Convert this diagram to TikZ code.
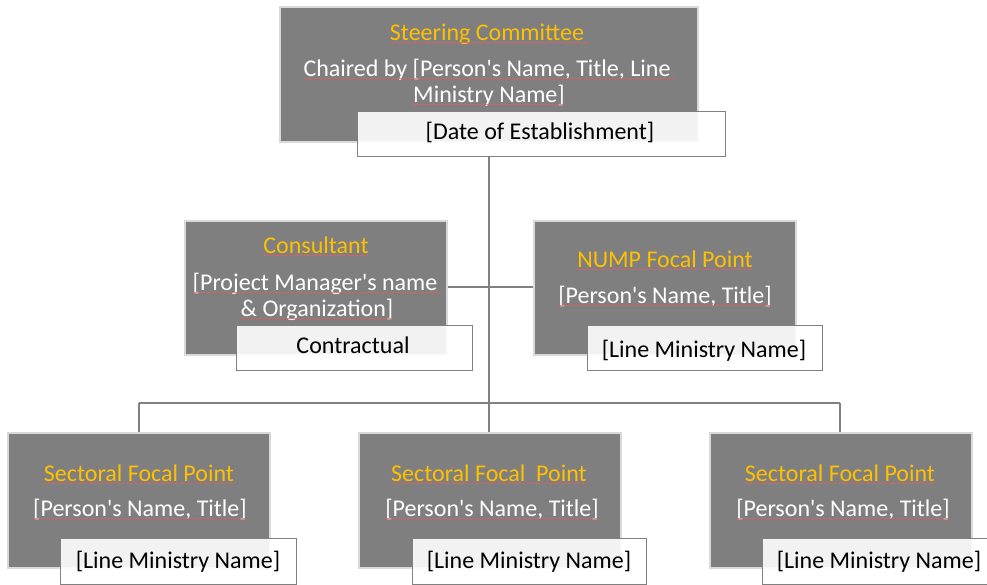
\documentclass[tikz,border=0pt]{standalone}
\usepackage{fontspec}
\setmainfont{Carlito}[Ligatures=TeXOff]
\definecolor{boxgray}{HTML}{7F7F7F}
\definecolor{rimgray}{HTML}{D9D9D9}
\definecolor{gold}{HTML}{FFC000}
\definecolor{linegray}{HTML}{808080}
\definecolor{squigred}{HTML}{E06060}
\begin{document}
\begin{tikzpicture}[x=1pt,y=-1pt,
  rolebox/.style={fill=boxgray,draw=rimgray,line width=2pt},
  tagbox/.style={fill=white,fill opacity=0.9,draw=linegray,line width=0.8pt},
  title/.style={text=gold,inner sep=0pt,anchor=base,font=\fontsize{24}{28}\selectfont},
  white text/.style={text=white,inner sep=0pt,anchor=base,font=\fontsize{24}{28}\selectfont},
  black text/.style={text=black,inner sep=0pt,anchor=base,font=\fontsize{24}{28}\selectfont},
  conn/.style={draw=linegray,line width=2pt},
  squig/.style={draw=squigred,draw opacity=0.7,line width=0.5pt}]
\useasboundingbox (0,0) rectangle (987,584);
% connectors (drawn first)
\coordinate (top) at (489,156);
\coordinate (bus) at (489,403);
\coordinate (busL) at (139,403);
\coordinate (busR) at (840,403);
\coordinate (hl) at (448,287);
\coordinate (hr) at (535,287);
\coordinate (dL) at (139,433);
\coordinate (dM) at (489,433);
\coordinate (dR) at (840,433);
\draw[conn] (top) -- (bus);
\draw[conn] (busL) -- (busR);
\draw[conn] (hl) -- (hr);
\draw[conn] (busL) -- (dL);
\draw[conn] (bus) -- (dM);
\draw[conn] (busR) -- (dR);
% steering committee
\path[rolebox] (280,7) rectangle (698,142);
\node[title] (sc) at (489,40) {Steering Committee\,};
\node[white text] (sc1) at (489,76) {Chaired by [Person's Name, Title, Line\,};
\node[white text] (sc2) at (489,102) {Ministry Name]};
\path[tagbox] (357,111) rectangle (725,156);
\node[black text] (date) at (540,139) {[Date of Establishment]};
% consultant
\path[rolebox] (185,221) rectangle (447,355);
\node[title] (co) at (316,253) {Consultant};
\node[white text] (co1) at (317,290) {[Project Manager's name\,};
\node[white text] (co2) at (317,316) {\& Organization]};
\path[tagbox] (236,325) rectangle (472,370);
\node[black text] (contr) at (353,353) {Contractual};
% NUMP
\path[rolebox] (534,221) rectangle (796,355);
\node[title] (nu) at (665,267) {NUMP Focal Point};
\node[white text] (nu1) at (665,303) {[Person's Name, Title]};
\path[tagbox] (587,325) rectangle (822,370);
\node[black text] (nu2) at (704,357) {[Line Ministry Name]};
% bottom left
\path[rolebox] (8,433) rectangle (270,568);
\node[title] (s1) at (139,481) {Sectoral Focal Point};
\node[white text] (s1a) at (140,516) {[Person's Name, Title]};
\path[tagbox] (60,538) rectangle (296,584);
\node[black text] (s1b) at (178,568) {[Line Ministry Name]};
% bottom middle
\path[rolebox] (359,433) rectangle (621,568);
\node[title] (s2) at (489,481) {Sectoral Focal\ \ Point};
\node[white text] (s2a) at (492,516) {[Person's Name, Title]};
\path[tagbox] (412,538) rectangle (646,584);
\node[black text] (s2b) at (529,568) {[Line Ministry Name]};
% bottom right
\path[rolebox] (710,433) rectangle (972,568);
\node[title] (s3) at (840,481) {Sectoral Focal Point};
\node[white text] (s3a) at (843,516) {[Person's Name, Title]};
\path[tagbox] (762,538) rectangle (988,584);
\node[black text] (s3b) at (879,568) {[Line Ministry Name]};
% spelling underlines
\foreach \n in {sc,sc1,sc2,co,co1,co2,nu,nu1,s1,s1a,s2,s2a,s3,s3a}{
  \draw[squig] ([yshift=-2.5pt]\n.base west) -- ([yshift=-2.5pt]\n.base east);
}
\end{tikzpicture}
\end{document}
